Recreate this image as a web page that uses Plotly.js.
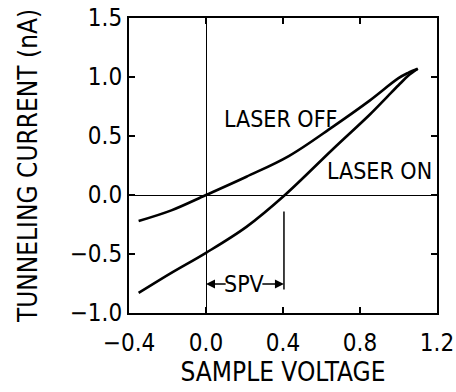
<!DOCTYPE html>
<html>
<head>
<meta charset="utf-8">
<script src="https://cdn.plot.ly/plotly-3.0.1.min.js"></script>
<style>html,body{margin:0;padding:0;background:#fff;}#chart{width:456px;height:392px;}</style>
</head>
<body>
<div id="chart"></div>
<script>
const offX = [-0.35, -0.18, 0, 0.21, 0.43, 0.66, 0.85, 1.0, 1.05, 1.1];
const offY = [-0.22, -0.13, 0, 0.155, 0.33, 0.58, 0.80, 0.99, 1.035, 1.07];
const onX = [-0.35, -0.18, 0, 0.21, 0.41, 0.66, 0.85, 0.94, 1.0, 1.05, 1.1];
const onY = [-0.83, -0.66, -0.49, -0.27, 0, 0.39, 0.68, 0.83, 0.93, 1.01, 1.07];
const xTicks = [-0.4, 0.0, 0.4, 0.8, 1.2];
const xTickText = ['\u22120.4', '0.0', '0.4', '0.8', '1.2'];
const yTicks = [-1.0, -0.5, 0.0, 0.5, 1.0, 1.5];
const yTickText = ['\u22121.0', '\u22120.5', '0.0', '0.5', '1.0', '1.5'];
const spvX = 0.405;
const spvTop = -0.14, spvBottom = -0.8, spvArrowY = -0.755;

const font = 'DejaVu Sans Condensed, Liberation Sans Narrow, Arial Narrow, sans-serif';

const traces = [
  {x: offX, y: offY, mode: 'lines', line: {color: '#000', width: 2.6, shape: 'spline', smoothing: 1}, name: 'LASER OFF', hoverinfo: 'skip'},
  {x: onX, y: onY, mode: 'lines', line: {color: '#000', width: 2.6, shape: 'spline', smoothing: 1}, name: 'LASER ON', hoverinfo: 'skip'}
];

const axisCommon = {
  showgrid: false, zeroline: true, zerolinecolor: '#000', zerolinewidth: 1,
  showline: true, linecolor: '#000', linewidth: 2, mirror: 'ticks',
  ticks: 'inside', ticklen: 6, tickwidth: 1.5, tickcolor: '#000',
  tickfont: {family: font, size: 24, color: '#000'}
};

const layout = {
  width: 456, height: 392,
  margin: {l: 129, r: 19, t: 18, b: 79},
  paper_bgcolor: '#fff', plot_bgcolor: '#fff',
  showlegend: false,
  xaxis: Object.assign({}, axisCommon, {
    range: [-0.4, 1.2], tickvals: xTicks, ticktext: xTickText, ticklabelstandoff: 7,
    title: {text: 'SAMPLE VOLTAGE', font: {family: font, size: 26, color: '#000'}, standoff: 5}
  }),
  yaxis: Object.assign({}, axisCommon, {
    range: [-1.0, 1.5], tickvals: yTicks, ticktext: yTickText, ticksuffix: '\u00a0\u2009',
    title: {text: 'TUNNELING CURRENT (nA)', font: {family: font, size: 26, color: '#000'}, standoff: 25}
  }),
  shapes: [
    {type: 'line', xref: 'x', yref: 'y', x0: spvX, x1: spvX, y0: spvTop, y1: spvBottom, line: {color: '#000', width: 1.5}}
  ],
  annotations: [
    {x: 0.385, y: 0.64, xref: 'x', yref: 'y', text: 'LASER OFF', showarrow: false, font: {family: font, size: 23, color: '#000'}},
    {x: 0.9, y: 0.2, xref: 'x', yref: 'y', text: 'LASER ON', showarrow: false, font: {family: font, size: 23, color: '#000'}},
    {x: 0.195, y: spvArrowY, xref: 'x', yref: 'y', text: 'SPV', showarrow: false, font: {family: font, size: 23, color: '#000'}},
    {x: 0, y: spvArrowY, ax: 0.11, ay: spvArrowY, xref: 'x', yref: 'y', axref: 'x', ayref: 'y', text: '', showarrow: true, arrowhead: 2, arrowsize: 1.2, arrowwidth: 1.5, arrowcolor: '#000'},
    {x: spvX, y: spvArrowY, ax: 0.285, ay: spvArrowY, xref: 'x', yref: 'y', axref: 'x', ayref: 'y', text: '', showarrow: true, arrowhead: 2, arrowsize: 1.2, arrowwidth: 1.5, arrowcolor: '#000'}
  ]
};

Plotly.newPlot('chart', traces, layout, {displayModeBar: false, staticPlot: true});
</script>
</body>
</html>
